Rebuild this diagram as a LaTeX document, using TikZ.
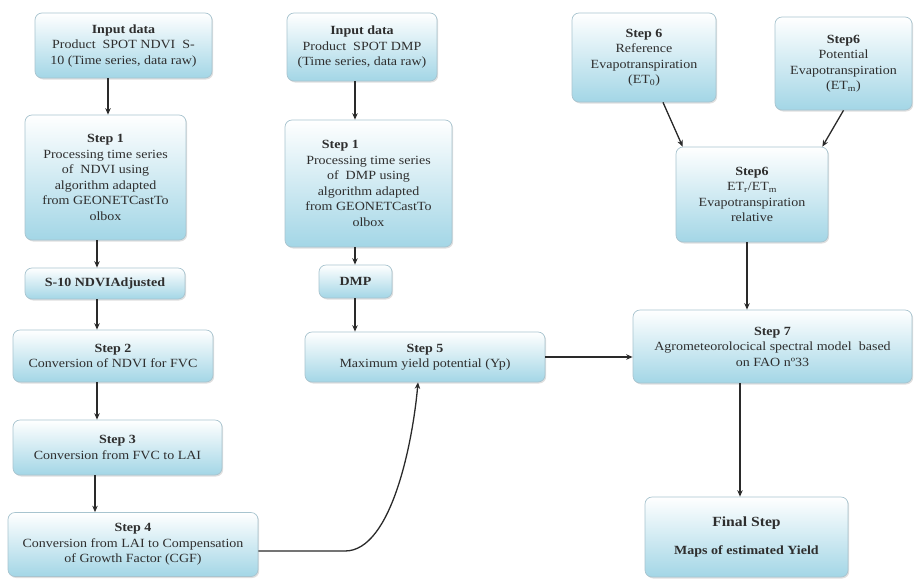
\documentclass[tikz,border=0pt]{standalone}
\usepackage{fontspec}
\setmainfont[FakeStretch=1.12]{Liberation Serif}
\usetikzlibrary{arrows.meta,shadows}
\definecolor{boxblue}{HTML}{A3D6E6}
\definecolor{boxline}{HTML}{A8C4CF}
\definecolor{txt}{HTML}{2E2E2E}
\definecolor{arrowc}{HTML}{2A2A2A}
\tikzset{
  box/.style={draw=boxline, line width=0.7pt, rounded corners=7pt,
    top color=white, bottom color=boxblue, align=center, inner sep=2pt,
    font=\fontsize{12.5}{15.5}\selectfont, text=txt,
    drop shadow={shadow xshift=1.2pt, shadow yshift=-1.5pt, opacity=0.25, fill=gray}},
  arr/.style={draw=arrowc, line width=1.3pt, -{Stealth[length=6.5pt,width=5.5pt]}},
}
\begin{document}
\begin{tikzpicture}[x=1pt,y=-1pt]
\useasboundingbox (0,0) rectangle (916,579);
% column 1
\node[box, minimum width=177pt, minimum height=65pt] (in1) at (123.5,45.5)
  {\textbf{Input data}\\Product\ \ SPOT NDVI\ \ S-\\10 (Time series, data raw)};
\node[box, minimum width=161pt, minimum height=125pt] (s1a) at (105.5,177.5)
  {\textbf{Step 1}\\Processing time series\\of\ \ NDVI using\\algorithm adapted\\from GEONETCastTo\\olbox};
\node[box, minimum width=160pt, minimum height=31pt] (adj) at (105,283.5)
  {\textbf{S-10 NDVIAdjusted}};
\node[box, minimum width=200pt, minimum height=52pt] (s2) at (113,356)
  {\textbf{Step 2}\\Conversion of NDVI for FVC};
\node[box, minimum width=209pt, minimum height=55pt] (s3) at (117.5,447.5)
  {\textbf{Step 3}\\Conversion from FVC to LAI};
\node[box, minimum width=250pt, minimum height=64pt] (s4) at (133,544.5)
  {\textbf{Step 4}\\Conversion from LAI to Compensation\\of Growth Factor (CGF)};
% column 2
\node[box, minimum width=150pt, minimum height=68pt] (in2) at (362,47)
  {\textbf{Input data}\\Product\ \ SPOT DMP\\(Time series, data raw)};
\node[box, minimum width=167pt, minimum height=127pt] (s1b) at (368.5,183.5)
  {\textbf{Step 1}\hspace*{4.5em}\\Processing time series\\of\ \ DMP using\\algorithm adapted\\from GEONETCastTo\\olbox};
\node[box, minimum width=73pt, minimum height=33pt] (dmp) at (355.5,281.5)
  {\textbf{DMP}};
\node[box, minimum width=240pt, minimum height=50pt] (s5) at (425,357)
  {\textbf{Step 5}\\Maximum yield potential (Yp)};
% right part
\node[box, minimum width=144pt, minimum height=89pt] (ref) at (644,57.5)
  {\textbf{Step 6}\\Reference\\Evapotranspiration\\(ET\textsubscript{0})};
\node[box, minimum width=137pt, minimum height=93pt] (pot) at (843.5,63.5)
  {\textbf{Step6}\\Potential\\Evapotranspiration\\(ET\textsubscript{m})};
\node[box, minimum width=152pt, minimum height=95pt] (rel) at (752,194.5)
  {\textbf{Step6}\\ET\textsubscript{r}/ET\textsubscript{m}\\Evapotranspiration\\relative};
\node[box, minimum width=279pt, minimum height=73pt] (s7) at (772.5,346.5)
  {\textbf{Step 7}\\Agrometeorolocical spectral model\ \ based\\on FAO nº33};
\node[box, minimum width=203pt, minimum height=80pt] (fin) at (746.5,537)
  {{\fontsize{14}{16}\selectfont\textbf{Final Step}}\\[12pt]\textbf{Maps of estimated Yield}};
% arrow columns
\coordinate (c1) at (108,0);
\coordinate (c2) at (97,0);
\coordinate (c3) at (95,0);
\coordinate (c4) at (355,0);
\coordinate (c5) at (747,0);
\coordinate (c6) at (740,0);
\draw[arr] (in1.south -| c1) -- (s1a.north -| c1);
\draw[arr] (s1a.south -| c2) -- (adj.north -| c2);
\draw[arr] (adj.south -| c2) -- (s2.north -| c2);
\draw[arr] (s2.south -| c2) -- (s3.north -| c2);
\draw[arr] (s3.south -| c3) -- (s4.north -| c3);
\draw[arr] (in2.south -| c4) -- (s1b.north -| c4);
\draw[arr] (s1b.south -| c4) -- (dmp.north -| c4);
\draw[arr] (dmp.south -| c4) -- (s5.north -| c4);
\coordinate (k1) at (345,551);
\draw[arr] ([yshift=-6.5pt]s4.east) -- (k1) .. controls (392,551) and (413,440) .. ([xshift=-7pt]s5.south);
\draw[arr] (s5.east) -- (s7.west |- s5.east);
\draw[arr] ([xshift=19pt]ref.south) -- ([xshift=7pt]rel.north west);
\draw[arr] ([xshift=0pt]pot.south) -- ([xshift=-6pt]rel.north east);
\draw[arr] (rel.south -| c5) -- (s7.north -| c5);
\draw[arr] (s7.south -| c6) -- (fin.north -| c6);
\end{tikzpicture}
\end{document}
